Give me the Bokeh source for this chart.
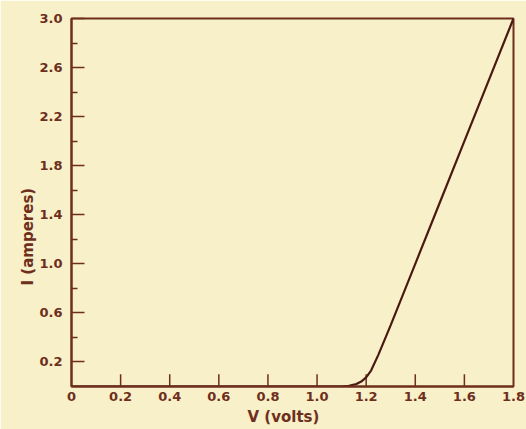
from bokeh.plotting import figure
from bokeh.models import FixedTicker, Range1d, Title
from bokeh.embed import file_html
from bokeh.resources import INLINE

# Diode-like I-V characteristic: current stays near zero until ~1.1 V,
# bends through the knee around 1.2 V and then rises linearly.
volts = [0.0, 1.10, 1.13, 1.16, 1.18, 1.20, 1.22, 1.25, 1.30, 1.40, 1.50, 1.60, 1.70, 1.80]
amperes = [0.0, 0.0, 0.005, 0.02, 0.04, 0.075, 0.13, 0.26, 0.50, 1.00, 1.50, 2.00, 2.50, 3.00]

x_ticks = [0.2, 0.4, 0.6, 0.8, 1.0, 1.2, 1.4, 1.6]
x_label_values = [0.0, 0.2, 0.4, 0.6, 0.8, 1.0, 1.2, 1.4, 1.6, 1.8]
x_tick_labels = ["0", "0.2", "0.4", "0.6", "0.8", "1.0", "1.2", "1.4", "1.6", "1.8"]
y_major = [0.2, 0.6, 1.0, 1.4, 1.8, 2.2, 2.6, 3.0]
y_tick_labels = ["0.2", "0.6", "1.0", "1.4", "1.8", "2.2", "2.6", "3.0"]
y_minor = [0.4, 0.8, 1.2, 1.6, 2.0, 2.4, 2.8]

PAPER = "#f8f0c9"
INK = "#6e2e1c"
CURVE = "#4a1a12"
FONT = "DejaVu Sans"

p = figure(
    width=526, height=429,
    x_range=Range1d(0, 1.8), y_range=Range1d(0, 3.0),
    output_backend="svg", toolbar_location=None,
    min_border_left=71, min_border_right=13,
    min_border_top=18, min_border_bottom=43,
)
p.background_fill_color = PAPER
p.border_fill_color = PAPER
p.outline_line_color = INK
p.outline_line_width = 2
p.grid.visible = False

# x axis: labels at every 0.2 V, tick marks drawn inside the frame below
p.xaxis.ticker = FixedTicker(ticks=x_label_values)
p.xaxis.major_label_overrides = {v: t for v, t in zip(x_label_values, x_tick_labels)}
p.xaxis.major_tick_in = 0
p.xaxis.major_tick_out = 0
p.xaxis.minor_tick_in = 0
p.xaxis.minor_tick_out = 0
p.xaxis.axis_line_color = INK
p.xaxis.axis_line_width = 2
p.xaxis.major_label_standoff = 5
p.xaxis.major_label_text_font = FONT
p.xaxis.major_label_text_font_size = "13px"
p.xaxis.major_label_text_font_style = "bold"
p.xaxis.major_label_text_color = INK

# y axis: long inward ticks at labelled values, short ones between
p.yaxis.ticker = FixedTicker(ticks=y_major, minor_ticks=y_minor)
p.yaxis.major_label_overrides = {v: t for v, t in zip(y_major, y_tick_labels)}
p.yaxis.major_tick_in = 13
p.yaxis.major_tick_out = 0
p.yaxis.minor_tick_in = 6
p.yaxis.minor_tick_out = 0
p.yaxis.major_tick_line_color = INK
p.yaxis.minor_tick_line_color = INK
p.yaxis.major_tick_line_width = 1.5
p.yaxis.minor_tick_line_width = 1.5
p.yaxis.axis_line_color = INK
p.yaxis.axis_line_width = 2
p.yaxis.major_label_standoff = 9
p.yaxis.major_label_text_font = FONT
p.yaxis.major_label_text_font_size = "13px"
p.yaxis.major_label_text_font_style = "bold"
p.yaxis.major_label_text_color = INK

# short upward tick marks along the voltage axis
p.segment(x0=x_ticks, y0=[0] * len(x_ticks), x1=x_ticks,
          y1=[0.1] * len(x_ticks), line_color=INK, line_width=1.5)

p.line(volts, amperes, line_color=CURVE, line_width=2.2)

# axis titles as side titles so they sit outside the frame
x_title = Title(text="V (volts)", align="left", offset=176,
                text_font=FONT, text_font_size="15px", text_font_style="bold",
                text_color=INK, standoff=4)
y_title = Title(text="I (amperes)", align="left", offset=101,
                text_font=FONT, text_font_size="15px", text_font_style="bold",
                text_color=INK, standoff=0)
p.add_layout(x_title, "below")
p.add_layout(y_title, "left")

open("out.html", "w").write(file_html(p, INLINE))
